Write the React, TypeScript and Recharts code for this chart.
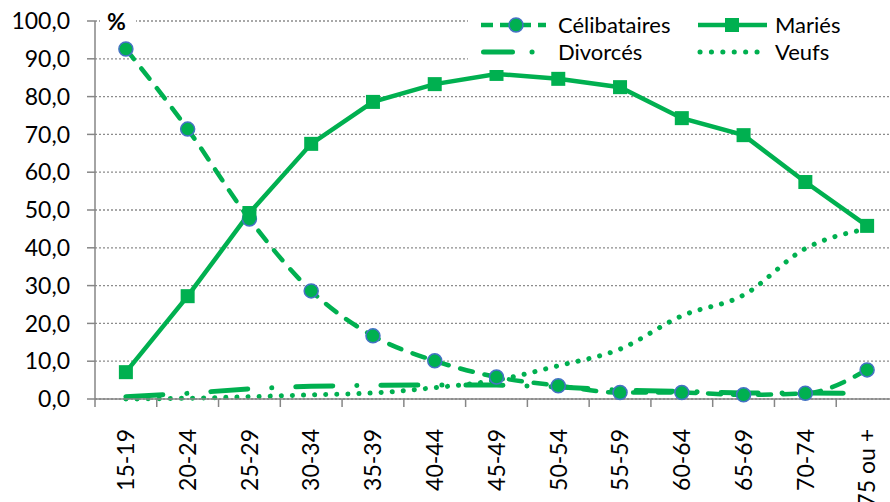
import { CartesianGrid, Legend, Line, LineChart, XAxis, YAxis } from 'recharts';

const ageGroups = [
  '15-19', '20-24', '25-29', '30-34', '35-39', '40-44', '45-49',
  '50-54', '55-59', '60-64', '65-69', '70-74', '75 ou +',
];
const celibataires = [92.6, 71.4, 47.6, 28.6, 16.7, 10.1, 5.8, 3.5, 1.7, 1.7, 1.1, 1.5, 7.7];
const maries = [7.1, 27.2, 49.2, 67.5, 78.6, 83.3, 86.0, 84.7, 82.5, 74.3, 69.8, 57.4, 45.8];
const divorces = [0.6, 1.5, 2.7, 3.4, 3.6, 3.7, 3.7, 3.2, 2.3, 2.0, 1.6, 1.6, 1.5];
const veufs = [0.0, 0.2, 0.6, 1.1, 1.6, 3.0, 5.0, 8.8, 13.2, 22.0, 27.5, 39.8, 45.0];
const yTicks = [0, 10, 20, 30, 40, 50, 60, 70, 80, 90, 100];

const GREEN = '#00b050';
const BLUE = '#4472c4';
const AXIS = '#868686';
const FONT = 'Lato, "Open Sans", sans-serif';

// plot area: x 95..898, first/last category at half a band from the edges
const PLOT_W = 910 - 95 - 12;
const BAND = PLOT_W / 13;

const data = ageGroups.map((age, i) => ({
  age,
  celibataires: celibataires[i],
  maries: maries[i],
  divorces: divorces[i],
  veufs: veufs[i],
}));

const fmt = (v: number) => v.toFixed(1).replace('.', ',');

function AgeTick(props: any) {
  const { x, y, payload, index } = props;
  const top = y - 8;
  const half = BAND / 2;
  return (
    <g>
      <line x1={x - half} y1={top} x2={x - half} y2={top + 8} stroke={AXIS} strokeWidth={1.5} />
      {index === ageGroups.length - 1 && (
        <line x1={x + half} y1={top} x2={x + half} y2={top + 8} stroke={AXIS} strokeWidth={1.5} />
      )}
      <text
        transform={`translate(${x},${top + 30}) rotate(-90)`}
        textAnchor="end"
        dy="0.36em"
        fill="#000"
        fontSize={23}
        fontFamily={FONT}
      >
        {payload.value}
      </text>
    </g>
  );
}

const squareDot = (p: any) => (
  <rect key={`sq-${p.index}`} x={p.cx - 7} y={p.cy - 7} width={14} height={14} fill={GREEN} />
);

function LegendBox() {
  const text = { position: 'absolute' as const, fontSize: 22, lineHeight: '26px', color: '#000' };
  return (
    <div style={{ position: 'relative', width: 422, height: 60, background: '#fff', fontFamily: FONT }}>
      <svg width={422} height={60} style={{ position: 'absolute', left: 0, top: 0 }}>
        {/* Célibataires */}
        <line x1={13} y1={15} x2={78} y2={15} stroke={GREEN} strokeWidth={4.5} strokeDasharray="12 7" />
        <circle cx={48} cy={15} r={7} fill={GREEN} stroke={BLUE} strokeWidth={1.5} />
        {/* Mariés */}
        <line x1={230} y1={15} x2={299} y2={15} stroke={GREEN} strokeWidth={4.5} />
        <rect x={257} y={8} width={14} height={14} fill={GREEN} />
        {/* Divorcés */}
        <line x1={15.5} y1={42} x2={70} y2={42} stroke={GREEN} strokeWidth={5} strokeLinecap="round" strokeDasharray="29 19.5 0.1 40" />
        {/* Veufs */}
        <line x1={232} y1={42} x2={296} y2={42} stroke={GREEN} strokeWidth={5} strokeLinecap="round" strokeDasharray="0.1 11.3" />
      </svg>
      <span style={{ ...text, left: 90, top: 2 }}>Célibataires</span>
      <span style={{ ...text, left: 307, top: 2 }}>Mariés</span>
      <span style={{ ...text, left: 90, top: 29 }}>Divorcés</span>
      <span style={{ ...text, left: 307, top: 29 }}>Veufs</span>
    </div>
  );
}

export default function App() {
  return (
    <div
      style={{
        position: 'absolute',
        left: 0,
        top: 0,
        width: 890,
        height: 502,
        overflow: 'hidden',
        background: '#fff',
      }}
    >
      <LineChart width={910} height={502} data={data} margin={{ top: 21, right: 12, left: 0, bottom: 0 }}>
        <CartesianGrid vertical={false} stroke="#8c8c8c" strokeWidth={1.3} strokeDasharray="2 2" />
        <XAxis
          dataKey="age"
          scale="point"
          padding={{ left: BAND / 2, right: BAND / 2 }}
          height={103}
          interval={0}
          tickSize={8}
          tickMargin={0}
          tickLine={false}
          axisLine={{ stroke: AXIS, strokeWidth: 1.5 }}
          tick={<AgeTick />}
        />
        <YAxis
          width={95}
          domain={[0, 100]}
          ticks={yTicks}
          interval={0}
          tickFormatter={fmt}
          tickSize={8}
          tickMargin={17}
          tickLine={{ stroke: AXIS, strokeWidth: 1.5 }}
          axisLine={{ stroke: AXIS, strokeWidth: 1.5 }}
          tick={{ fill: '#000', fontSize: 23, fontFamily: FONT }}
        />
        <Legend
          layout="horizontal"
          verticalAlign="middle"
          align="center"
          wrapperStyle={{ top: 10, left: 468, width: 422, height: 60 }}
          content={() => <LegendBox />}
        />
        <Line
          dataKey="celibataires"
          name="Célibataires"
          type="monotone"
          stroke={GREEN}
          strokeWidth={4.5}
          strokeDasharray="13 12"
          strokeLinecap="round"
          dot={{ r: 7, fill: GREEN, stroke: BLUE, strokeWidth: 1.5, strokeDasharray: 'none' }}
          activeDot={false}
          isAnimationActive={false}
        />
        <Line
          dataKey="maries"
          name="Mariés"
          type="linear"
          stroke={GREEN}
          strokeWidth={4.5}
          dot={squareDot}
          activeDot={false}
          isAnimationActive={false}
        />
        <Line
          dataKey="divorces"
          name="Divorcés"
          type="linear"
          stroke={GREEN}
          strokeWidth={5}
          strokeLinecap="round"
          strokeDasharray="37 24 0.1 24"
          dot={false}
          activeDot={false}
          isAnimationActive={false}
        />
        <Line
          dataKey="veufs"
          name="Veufs"
          type="monotone"
          stroke={GREEN}
          strokeWidth={5}
          strokeLinecap="round"
          strokeDasharray="0.1 11"
          dot={false}
          activeDot={false}
          isAnimationActive={false}
        />
      </LineChart>
      <div
        style={{
          position: 'absolute',
          left: 100,
          top: 6,
          width: 36,
          height: 30,
          background: '#fff',
          fontFamily: FONT,
          fontWeight: 700,
          fontSize: 23,
          lineHeight: '30px',
          paddingLeft: 7,
          boxSizing: 'border-box',
        }}
      >
        %
      </div>
    </div>
  );
}
